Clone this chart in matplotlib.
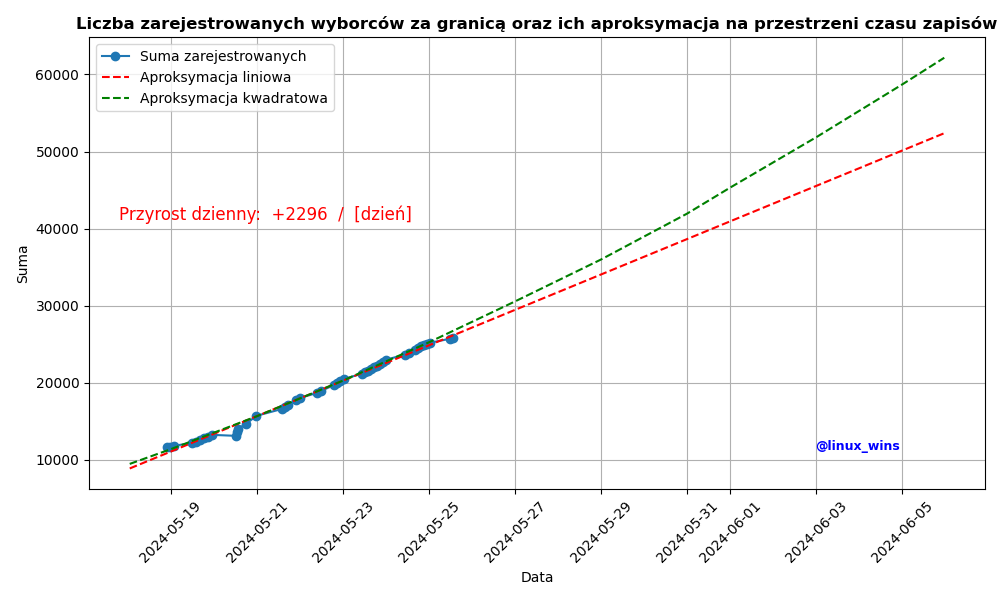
import matplotlib
matplotlib.use('Agg')
import matplotlib.pyplot as plt
import pandas as pd

# registered voters abroad (cumulative)
dates = [
    '2024-05-18 21:45', '2024-05-18 23:40', '2024-05-19 01:40',
    '2024-05-19 11:45', '2024-05-19 14:00', '2024-05-19 16:15', '2024-05-19 18:30',
    '2024-05-19 20:40', '2024-05-19 22:55',
    '2024-05-20 12:25', '2024-05-20 12:55', '2024-05-20 13:10',
    '2024-05-20 18:00', '2024-05-20 23:35',
    '2024-05-21 14:08', '2024-05-21 15:50', '2024-05-21 17:30', '2024-05-21 21:58',
    '2024-05-22 00:12', '2024-05-22 09:43', '2024-05-22 11:57',
    '2024-05-22 19:14', '2024-05-22 20:54', '2024-05-22 22:35', '2024-05-23 00:50',
    '2024-05-23 10:20', '2024-05-23 12:00', '2024-05-23 13:42', '2024-05-23 15:23',
    '2024-05-23 17:04', '2024-05-23 18:45', '2024-05-23 20:25', '2024-05-23 22:06',
    '2024-05-23 23:47',
    '2024-05-24 10:25', '2024-05-24 12:39', '2024-05-24 16:00', '2024-05-24 17:41',
    '2024-05-24 19:22', '2024-05-24 21:03', '2024-05-24 22:44', '2024-05-25 00:24',
    '2024-05-25 11:36', '2024-05-25 13:16',
]
suma = [
    11690, 11690, 11820,
    12210, 12340, 12600, 12860,
    12990, 13250,
    13120, 13640, 14030,
    14680, 15710,
    16620, 16880, 17140, 17790,
    18050, 18700, 18960,
    19740, 20000, 20260, 20520,
    21170, 21430, 21560, 21820,
    22080, 22210, 22470, 22730,
    22990,
    23640, 23900, 24290, 24550,
    24810, 24940, 25060, 25190,
    25710, 25840,
]

# linear approximation (endpoints)
lin_dates = ['2024-05-18 01:00', '2024-06-05 23:30']
lin_vals = [8890, 52380]

# quadratic approximation
quad_dates = ['2024-05-18 01:00', '2024-05-19 00:00', '2024-05-21 00:00', '2024-05-23 00:00',
              '2024-05-25 00:00', '2024-05-27 00:00', '2024-05-29 00:00', '2024-05-31 00:00',
              '2024-06-01 00:00', '2024-06-03 00:00', '2024-06-05 00:00', '2024-06-05 23:30']
quad_vals = [9480, 11400, 15670, 20290, 25260, 30560, 36000, 41950,
             45320, 51850, 58700, 62170]

fmt = '%Y-%m-%d %H:%M'
x = pd.to_datetime(dates, format=fmt)

fig, ax = plt.subplots(figsize=(10, 6), dpi=100)
ax.plot(x, suma, marker='o', label='Suma zarejestrowanych')
ax.plot(pd.to_datetime(lin_dates, format=fmt), lin_vals, 'r--', label='Aproksymacja liniowa')
ax.plot(pd.to_datetime(quad_dates, format=fmt), quad_vals, 'g--', label='Aproksymacja kwadratowa')

ax.set_title('Liczba zarejestrowanych wyborców za granicą oraz ich aproksymacja na przestrzeni czasu zapisów',
             fontsize=11.85, fontweight='bold')
ax.set_xlabel('Data')
ax.set_ylabel('Suma')
ax.legend(loc='upper left')
ax.grid(True)
plt.setp(ax.get_xticklabels(), rotation=45)

ax.text(0.033, 0.608, 'Przyrost dzienny:  +2296  /  [dzień]', color='red',
        fontsize=12, transform=ax.transAxes, va='center')
ax.text(0.905, 0.094, '@linux_wins', color='blue', fontsize=9, fontweight='bold',
        transform=ax.transAxes, ha='right', va='center')

plt.subplots_adjust(left=0.089, right=0.985, bottom=0.185, top=0.938)
plt.savefig('out.png', dpi=100, facecolor='white')
